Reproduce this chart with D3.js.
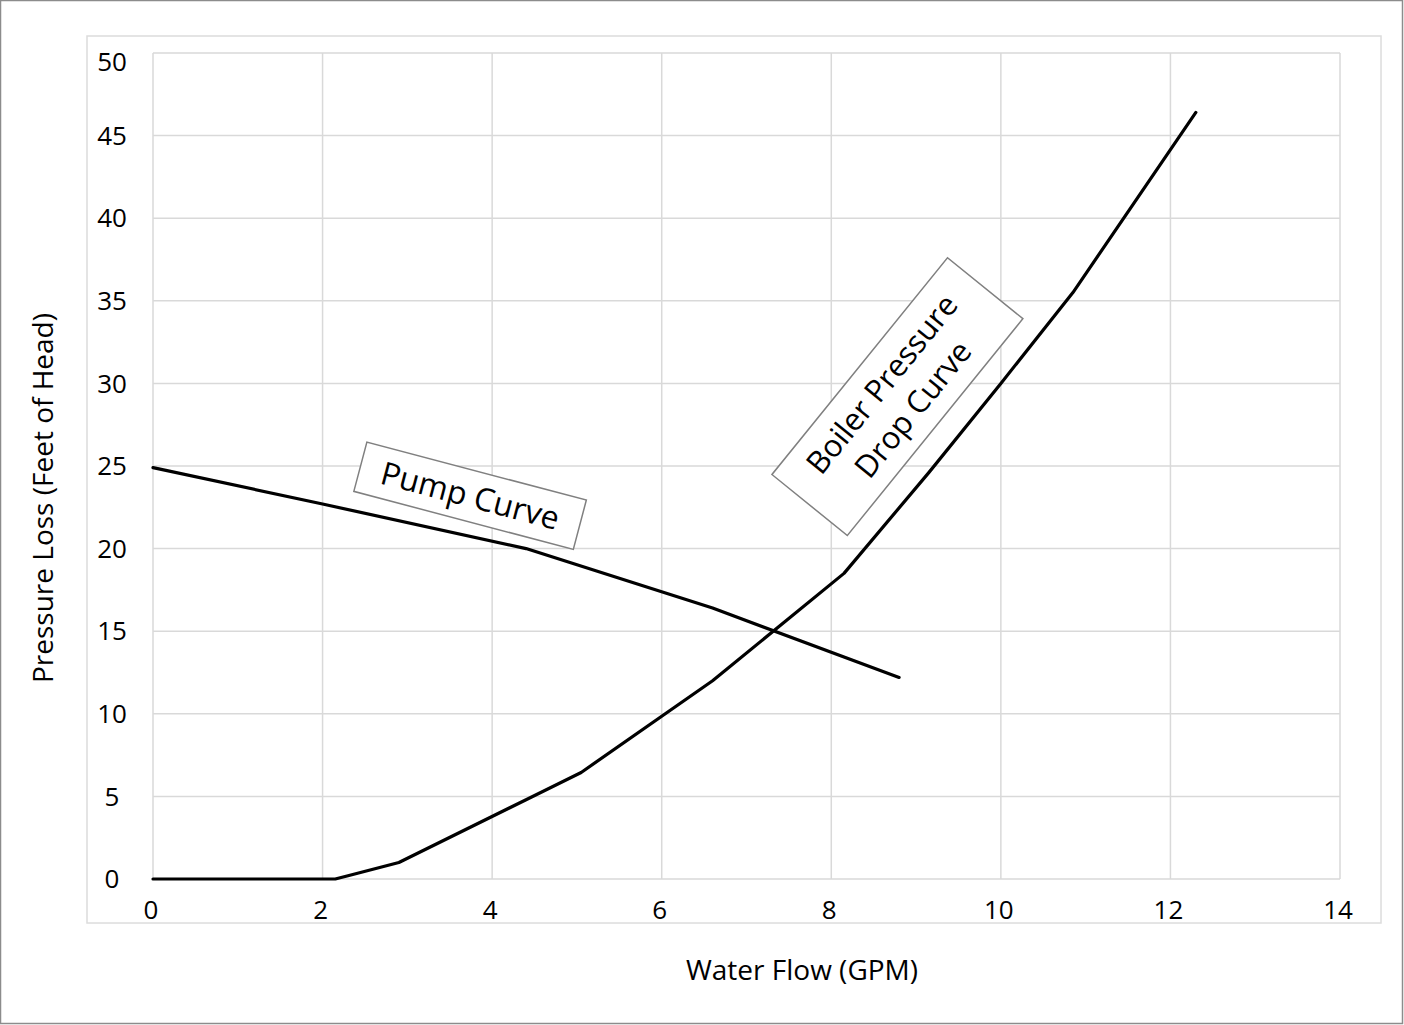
<!DOCTYPE html>
<html>
<head>
<meta charset="utf-8">
<script src="https://cdn.jsdelivr.net/npm/d3@7"></script>
<style>
  body { margin: 0; background: #fff; }
  text { font-family: "Open Sans", sans-serif; fill: #000; }
</style>
</head>
<body>
<div id="container"></div>
<script>
/* CONSTANTS AND GLOBALS */
const width = 1404,
  height = 1025;

// plot area inside the chart
const margin = { top: 53, right: 64, bottom: 146, left: 153 };

/* DATA */
const xTicks = [0, 2, 4, 6, 8, 10, 12, 14];
const yTicks = [0, 5, 10, 15, 20, 25, 30, 35, 40, 45, 50];

// pump curve (GPM, feet of head)
const pumpFlow = [0, 2, 4.4, 6.6, 8.8];
const pumpHead = [24.9, 22.7, 20.0, 16.4, 12.2];

// boiler pressure drop curve
const boilerFlow = [0, 2.15, 2.3, 2.9, 4.4, 5.05, 6.6, 8.15, 9.15, 10.0, 10.85, 12.3];
const boilerHead = [0, 0, 0.2, 1.0, 4.8, 6.45, 12.0, 18.5, 24.6, 30.0, 35.5, 46.4];

const xLabel = "Water Flow (GPM)";
const yLabel = "Pressure Loss (Feet of Head)";

const svg = d3.select("#container")
  .append("svg")
  .attr("width", width)
  .attr("height", height);

// outer frame
svg.append("rect")
  .attr("x", 0.5).attr("y", 0.5)
  .attr("width", width - 2).attr("height", height - 2)
  .attr("fill", "#fff")
  .attr("stroke", "#8c8c8c")
  .attr("stroke-width", 1.5);

// inner light frame
svg.append("rect")
  .attr("x", 87).attr("y", 36)
  .attr("width", 1381 - 87).attr("height", 923 - 36)
  .attr("fill", "none")
  .attr("stroke", "#dcdcdc")
  .attr("stroke-width", 1.5);

const xScale = d3.scaleLinear()
  .domain([0, 14])
  .range([margin.left, width - margin.right]);

const yScale = d3.scaleLinear()
  .domain([0, 50])
  .range([height - margin.bottom, margin.top]);

// gridlines
svg.append("g")
  .selectAll("line.vgrid")
  .data(xTicks)
  .join("line")
  .attr("class", "vgrid")
  .attr("x1", d => xScale(d)).attr("x2", d => xScale(d))
  .attr("y1", yScale(50)).attr("y2", yScale(0))
  .attr("stroke", "#d9d9d9")
  .attr("stroke-width", 1.5);

svg.append("g")
  .selectAll("line.hgrid")
  .data(yTicks)
  .join("line")
  .attr("class", "hgrid")
  .attr("x1", xScale(0)).attr("x2", xScale(14))
  .attr("y1", d => yScale(d)).attr("y2", d => yScale(d))
  .attr("stroke", "#d9d9d9")
  .attr("stroke-width", 1.5);

// tick labels
svg.append("g")
  .selectAll("text")
  .data(xTicks)
  .join("text")
  .attr("x", d => xScale(d) - 2)
  .attr("y", 910)
  .attr("dy", "0.35em")
  .attr("text-anchor", "middle")
  .attr("font-size", 26)
  .text(d => d);

svg.append("g")
  .selectAll("text")
  .data(yTicks)
  .join("text")
  .attr("x", 112)
  .attr("y", d => Math.max(yScale(d), 62))
  .attr("dy", "0.35em")
  .attr("text-anchor", "middle")
  .attr("font-size", 26)
  .text(d => d);

// axis titles
svg.append("text")
  .attr("x", 802)
  .attr("y", 970)
  .attr("dy", "0.35em")
  .attr("text-anchor", "middle")
  .attr("font-size", 28)
  .text(xLabel);

svg.append("text")
  .attr("transform", `translate(43, 498) rotate(-90)`)
  .attr("dy", "0.35em")
  .attr("text-anchor", "middle")
  .attr("font-size", 28)
  .text(yLabel);

// curves
const line = d3.line()
  .x(d => xScale(d[0]))
  .y(d => yScale(d[1]));

svg.append("path")
  .datum(d3.zip(pumpFlow, pumpHead))
  .attr("d", line)
  .attr("fill", "none")
  .attr("stroke", "#000")
  .attr("stroke-width", 3.2)
  .attr("stroke-linejoin", "round")
  .attr("stroke-linecap", "round");

svg.append("path")
  .datum(d3.zip(boilerFlow, boilerHead))
  .attr("d", line)
  .attr("fill", "none")
  .attr("stroke", "#000")
  .attr("stroke-width", 3.2)
  .attr("stroke-linejoin", "round")
  .attr("stroke-linecap", "round");

// callout boxes
function callout(cx, cy, angle, w, h, lines, size) {
  const g = svg.append("g")
    .attr("transform", `translate(${xScale(cx)}, ${yScale(cy)}) rotate(${angle})`);
  g.append("rect")
    .attr("x", -w / 2).attr("y", -h / 2)
    .attr("width", w).attr("height", h)
    .attr("fill", "#fff")
    .attr("stroke", "#808080")
    .attr("stroke-width", 1.5);
  g.selectAll("text")
    .data(lines)
    .join("text")
    .attr("x", 0)
    .attr("y", (d, i) => (i - (lines.length - 1) / 2) * 40)
    .attr("dy", "0.35em")
    .attr("text-anchor", "middle")
    .attr("font-size", size)
    .text(d => d);
}

callout(3.74, 23.2, 14.8, 227, 51, ["Pump Curve"], 32);
callout(8.78, 29.2, -51, 279, 97, ["Boiler Pressure", "Drop Curve"], 31);
</script>
</body>
</html>
